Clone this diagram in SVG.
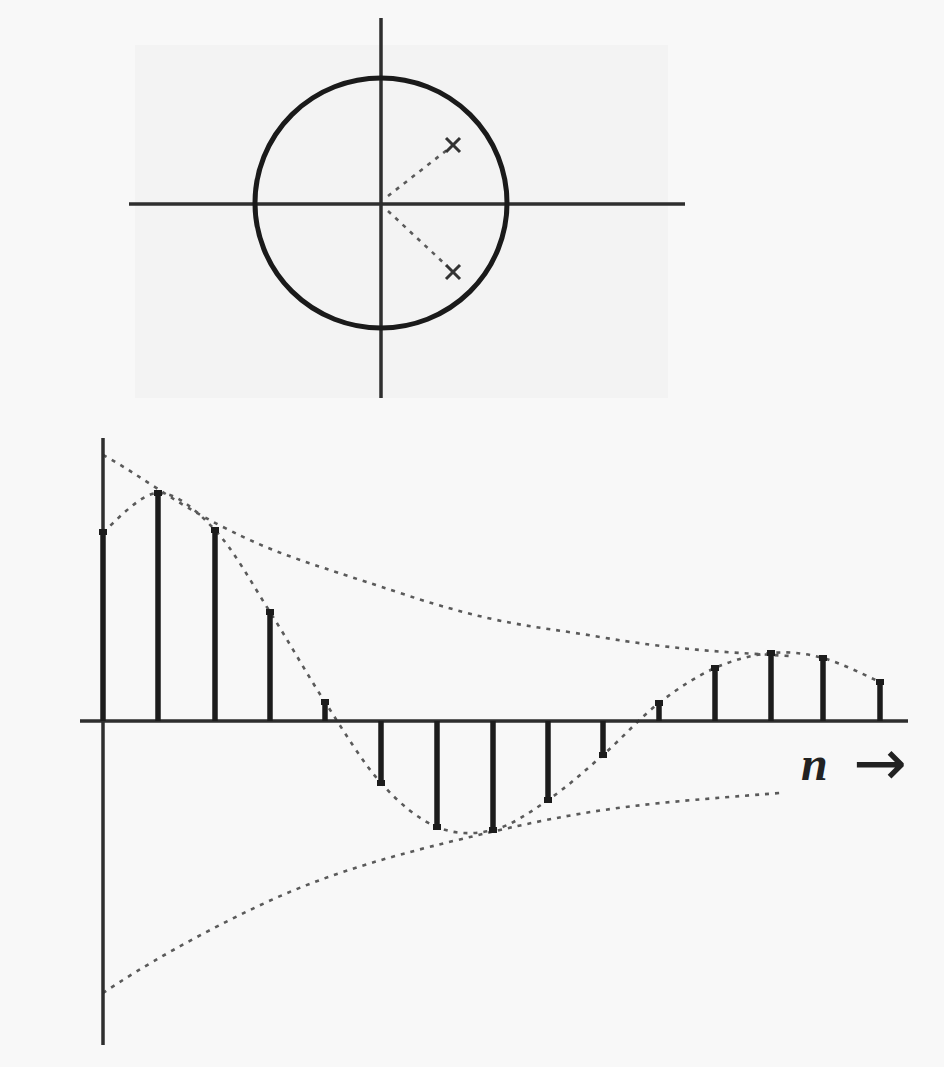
<svg xmlns="http://www.w3.org/2000/svg" width="944" height="1067" viewBox="0 0 944 1067">
  <defs>
    <style>
      .axis { stroke: #2e2e2e; stroke-width: 3.5; fill: none; }
      .circ { stroke: #1a1a1a; stroke-width: 5; fill: none; }
      .dot { stroke: #5a5a5a; stroke-width: 2.6; fill: none; stroke-dasharray: 4 6; }
      .stem { stroke: #1c1c1c; stroke-width: 5.5; fill: none; }
      .pole { stroke: #333; stroke-width: 3; fill: none; }
      .tip { fill: #1c1c1c; }
      .lbl { font-family: "Liberation Serif", "DejaVu Serif", serif; font-size: 48px; fill: #222; }
      .arr { font-family: "DejaVu Sans", sans-serif; font-size: 64px; fill: #222; }
    </style>
  </defs>
  <rect x="0" y="0" width="944" height="1067" fill="#f8f8f8"/>

  <g id="pole-zero-plot">
    <rect x="135" y="45" width="533" height="353" fill="#f3f3f3"/>
    <line class="axis" x1="129" y1="204" x2="685" y2="204"/>
    <line class="axis" x1="381" y1="18" x2="381" y2="398"/>
    <ellipse class="circ" cx="381" cy="203" rx="126" ry="125"/>
    <line class="dot" x1="388" y1="196" x2="447" y2="150"/>
    <line class="dot" x1="388" y1="211" x2="447" y2="266"/>
    <g id="pole-upper">
      <line class="pole" x1="446" y1="138" x2="460" y2="152"/>
      <line class="pole" x1="460" y1="138" x2="446" y2="152"/>
    </g>
    <g id="pole-lower">
      <line class="pole" x1="446" y1="265" x2="460" y2="279"/>
      <line class="pole" x1="460" y1="265" x2="446" y2="279"/>
    </g>
  </g>

  <g id="connectors">
    <path id="upper-envelope" class="dot" d="M103,455 C140,475 170,500 223,527 S300,560 400,593 S530,625 600,637 S720,652 790,656"/>
    <path id="lower-envelope" class="dot" d="M103,993 C140,968 200,933 267,902 S400,853 500,830 S650,803 780,793"/>
    <path id="sinusoid" class="dot" d="M103,532 C112.2,525.5 139.3,493.3 158,493 C176.7,492.7 196.3,510.2 215,530 C233.7,549.8 251.7,583.3 270,612 C288.3,640.7 306.5,673.5 325,702 C343.5,730.5 362.3,762.2 381,783 C399.7,803.8 418.3,819.2 437,827 C455.7,834.8 474.5,834.5 493,830 C511.5,825.5 529.7,812.5 548,800 C566.3,787.5 584.5,771.2 603,755 C621.5,738.8 640.3,717.5 659,703 C677.7,688.5 696.3,676.3 715,668 C733.7,659.7 753,654.7 771,653 C789,651.3 804.8,653.2 823,658 C841.2,662.8 870.5,678 880,682"/>
  </g>

  <g id="sequence-plot">
    <line class="axis" x1="80" y1="721" x2="908" y2="721"/>
    <line class="axis" x1="103" y1="438" x2="103" y2="1045"/>
    <g id="stems">
      <line class="stem" x1="103" y1="721" x2="103" y2="532"/>
      <line class="stem" x1="158" y1="721" x2="158" y2="493"/>
      <line class="stem" x1="215" y1="721" x2="215" y2="530"/>
      <line class="stem" x1="270" y1="721" x2="270" y2="612"/>
      <line class="stem" x1="325" y1="721" x2="325" y2="702"/>
      <line class="stem" x1="381" y1="721" x2="381" y2="783"/>
      <line class="stem" x1="437" y1="721" x2="437" y2="827"/>
      <line class="stem" x1="493" y1="721" x2="493" y2="830"/>
      <line class="stem" x1="548" y1="721" x2="548" y2="800"/>
      <line class="stem" x1="603" y1="721" x2="603" y2="755"/>
      <line class="stem" x1="659" y1="721" x2="659" y2="703"/>
      <line class="stem" x1="715" y1="721" x2="715" y2="668"/>
      <line class="stem" x1="771" y1="721" x2="771" y2="653"/>
      <line class="stem" x1="823" y1="721" x2="823" y2="658"/>
      <line class="stem" x1="880" y1="721" x2="880" y2="682"/>
    </g>
    <g id="tips">
      <rect class="tip" x="99" y="529" width="8" height="6"/>
      <rect class="tip" x="154" y="490" width="8" height="6"/>
      <rect class="tip" x="211" y="527" width="8" height="6"/>
      <rect class="tip" x="266" y="609" width="8" height="6"/>
      <rect class="tip" x="321" y="699" width="8" height="6"/>
      <rect class="tip" x="377" y="780" width="8" height="6"/>
      <rect class="tip" x="433" y="824" width="8" height="6"/>
      <rect class="tip" x="489" y="827" width="8" height="6"/>
      <rect class="tip" x="544" y="797" width="8" height="6"/>
      <rect class="tip" x="599" y="752" width="8" height="6"/>
      <rect class="tip" x="655" y="700" width="8" height="6"/>
      <rect class="tip" x="711" y="665" width="8" height="6"/>
      <rect class="tip" x="767" y="650" width="8" height="6"/>
      <rect class="tip" x="819" y="655" width="8" height="6"/>
      <rect class="tip" x="876" y="679" width="8" height="6"/>
    </g>
    <g id="n-label">
      <text class="lbl" x="801" y="780" font-style="italic" font-weight="bold">n</text>
      <text class="arr" x="853" y="785">→</text>
    </g>
  </g>
</svg>
